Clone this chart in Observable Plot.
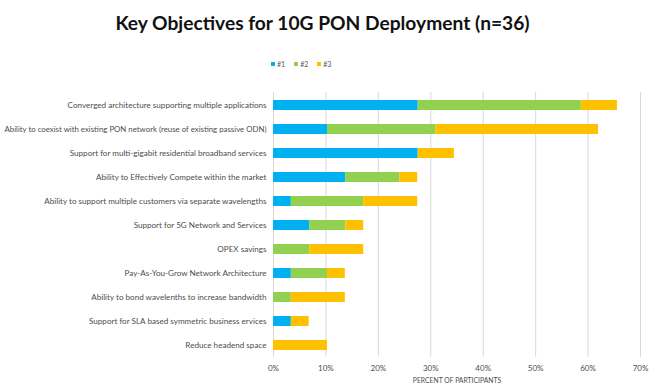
<!DOCTYPE html>
<html>
<head>
<meta charset="utf-8">
<script src="https://cdn.jsdelivr.net/npm/d3@7"></script>
<script src="https://cdn.jsdelivr.net/npm/@observablehq/plot@0.6"></script>
<style>
  html, body { margin: 0; padding: 0; background: #fff; }
  #wrap { position: relative; width: 665px; height: 388px; overflow: hidden; }
  #title { position: absolute; left: 0; width: 645px; top: 10px; text-align: center;
    font-family: "Lato", sans-serif; font-weight: 700; font-size: 19.2px; line-height: 26px; color: #111; }
  #legend { position: absolute; left: 271px; top: 60px; font-family: "Lato", sans-serif; font-size: 7px;
    color: #595959; display: flex; gap: 9px; line-height: 9px; }
  #legend span.sw { display: inline-block; width: 4px; height: 4px; margin-right: 2px; vertical-align: 1px; }
  #chart { position: absolute; left: 0; top: 80px; }
</style>
</head>
<body>
<div id="wrap">
  <div id="title">Key Objectives for 10G PON Deployment (n=36)</div>
  <div id="legend"></div>
  <div id="chart"></div>
</div>
<script>
const categories = [
  "Converged architecture supporting multiple applications",
  "Ability to coexist with existing PON network (reuse of existing passive ODN)",
  "Support for multi-gigabit residential broadband services",
  "Ability to Effectively Compete within the market",
  "Ability to support multiple customers via separate wavelengths",
  "Support for 5G Network and Services",
  "OPEX savings",
  "Pay-As-You-Grow Network Architecture",
  "Ability to bond wavelenths to increase bandwidth",
  "Support for SLA based symmetric business ervices",
  "Reduce headend space"
];
const seriesNames = ["#1", "#2", "#3"];
const seriesColors = ["#00B0F0", "#92D050", "#FFC000"];
const rank1 = [27.6, 10.3, 27.6, 13.8, 3.4, 6.9, 0, 3.4, 0, 3.4, 0];
const rank2 = [31.1, 20.7, 0, 10.3, 13.8, 6.9, 6.9, 6.9, 3.4, 0, 0];
const rank3 = [6.9, 31.0, 6.9, 3.4, 10.3, 3.4, 10.3, 3.4, 10.3, 3.4, 10.3];
const xTicks = [0, 10, 20, 30, 40, 50, 60, 70];

const seriesValues = [rank1, rank2, rank3];
const rows = [];
seriesNames.forEach((s, si) => {
  categories.forEach((c, ci) => {
    rows.push({category: c, series: s, value: seriesValues[si][ci]});
  });
});

const legend = document.getElementById("legend");
seriesNames.forEach((s, i) => {
  const item = document.createElement("div");
  item.innerHTML = `<span class="sw" style="background:${seriesColors[i]}"></span>${s}`;
  legend.appendChild(item);
});

const chart = Plot.plot({
  width: 665,
  height: 308,
  marginTop: 12,
  marginBottom: 31.2,
  marginLeft: 273,
  marginRight: 25,
  style: {fontFamily: "Lato, sans-serif", color: "#4d4d4d", background: "#fff"},
  x: {domain: [0, 70], ticks: xTicks},
  y: {domain: categories, paddingInner: 0.6, paddingOuter: 0.3},
  color: {domain: seriesNames, range: seriesColors},
  marks: [
    Plot.gridX(xTicks, {stroke: "#d9d9d9", strokeOpacity: 1, strokeWidth: 1}),
    Plot.barX(rows, {x: "value", y: "category", fill: "series", z: "series"}),
    Plot.axisX(xTicks, {tickSize: 0, tickPadding: 8, tickFormat: d => d + "%", fontSize: 8,
      label: null}),
    Plot.axisX({anchor: "bottom", ticks: [], tickSize: 0, fontSize: 6.8,
      label: "PERCENT OF PARTICIPANTS", labelAnchor: "center", labelArrow: "none", labelOffset: 26}),
    Plot.axisY({tickSize: 0, tickPadding: 7, fontSize: 8.1, label: null, className: "yax"})
  ]
});
document.getElementById("chart").appendChild(chart);
// keep long category labels inside the page
chart.querySelectorAll("g[aria-label='y-axis tick label'] text").forEach(t => {
  const w = t.getComputedTextLength();
  if (w > 262) {
    t.setAttribute("textLength", 262);
    t.setAttribute("lengthAdjust", "spacingAndGlyphs");
  }
});
</script>
</body>
</html>
